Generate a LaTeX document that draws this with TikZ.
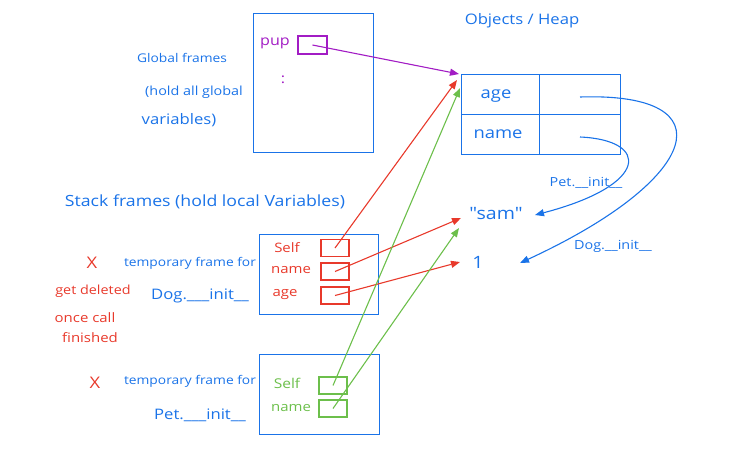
\documentclass[tikz,border=0pt]{standalone}
\usepackage{fontspec}
\setmainfont{Open Sans}[FakeStretch=1.15, Ligatures=TeXOff]
\usetikzlibrary{arrows.meta}
\definecolor{hblue}{HTML}{1A73E8}
\definecolor{hred}{HTML}{E8392B}
\definecolor{hgreen}{HTML}{6CBF4B}
\definecolor{hpurple}{HTML}{A21CC4}
\newcommand{\fsz}[1]{\fontsize{#1}{#1}\selectfont}
\tikzset{
  frame/.style={draw=hblue, line width=1.2pt},
  cell/.style={draw=hblue, line width=1.2pt, minimum width=#1, minimum height=40pt, inner sep=0pt, anchor=north west},
  slot/.style={draw=#1, line width=1.1pt, minimum width=28pt, minimum height=17pt, inner sep=0pt},
  txt/.style={text=#1, inner sep=0pt, font=\fsz{13}},
  ptr/.style={draw=#1, line width=1.1pt, -{Triangle[length=9pt,width=7pt]}},
}
\begin{document}
\begin{tikzpicture}[x=1pt,y=-1pt]
\useasboundingbox (0,0) rectangle (743,451);
% global frame
\node[frame, minimum width=120pt, minimum height=139pt, anchor=north west, inner sep=0pt] (global) at (253,13) {};
\node[txt=hpurple, font=\fsz{14}] (pup) at (275,43) {pup};
\node[slot=hpurple, minimum width=29pt, minimum height=18pt] (pupbox) at (312.5,45) {};
\node[txt=hpurple, font=\fsz{14}] (dots) at (283,80) {:};
\node[txt=hblue, font=\fsz{12}] (gf1) at (182,58) {Global frames};
\node[txt=hblue, font=\fsz{12.5}] (gf2) at (194,92) {(hold all global};
\node[txt=hblue, font=\fsz{14.5}] (gf3) at (179,120) {variables)};
% heap
\node[txt=hblue, font=\fsz{14.5}] (heaplbl) at (522,21) {Objects / Heap};
\node[cell=78pt] (hak) at (461,74) {};
\node[cell=81pt] (hav) at (539,74) {};
\node[cell=78pt] (hnk) at (461,114) {};
\node[cell=81pt] (hnv) at (539,114) {};
\node[txt=hblue, font=\fsz{16}] (agek) at (496,96) {age};
\node[txt=hblue, font=\fsz{16}] (namek) at (498,134) {name};
\node[txt=hblue, font=\fsz{17}] (sam) at (496,214) {"sam"};
\node[txt=hblue, font=\fsz{17}] (one) at (478,262) {1};
\node[txt=hblue, font=\fsz{12.5}] (petlbl) at (586,183) {Pet.\_\_init\_\_};
\node[txt=hblue, font=\fsz{12.5}] (doglbl) at (613,246) {Dog.\_\_init\_\_};
\coordinate (avs) at (580,97);
\coordinate (nvs) at (580,137);
\coordinate (onetip) at (520,263);
\coordinate (samtip) at (535,215);
\draw[ptr=hblue] (avs) .. controls (730,92) and (700,180) .. (onetip);
\draw[ptr=hblue] (nvs) .. controls (650,140) and (650,185) .. (samtip);
% stack frames
\node[txt=hblue, font=\fsz{15.4}] (stacklbl) at (205,202) {Stack frames (hold local Variables)};
\node[frame, minimum width=119pt, minimum height=80pt, anchor=north west, inner sep=0pt] (dogframe) at (259,234) {};
\node[txt=hred] (dself) at (287,248) {Self};
\node[txt=hred] (dname) at (291,270) {name};
\node[txt=hred] (dage) at (285,295) {age};
\node[slot=hred] (dselfb) at (335,248) {};
\node[slot=hred] (dnameb) at (335,271.5) {};
\node[slot=hred] (dageb) at (335,295.5) {};
\node[txt=hred, font=\fsz{16}] (x1) at (92,263) {X};
\node[txt=hred, font=\fsz{12.5}] (del1) at (93,291) {get deleted};
\node[txt=hred, font=\fsz{13}] (del2) at (85,318) {once call};
\node[txt=hred, font=\fsz{13}] (del3) at (90,338) {finished};
\node[txt=hblue, font=\fsz{12}] (tf1) at (190,263) {temporary frame for};
\node[txt=hblue, font=\fsz{14.5}] (dinit) at (200,296) {Dog.\_\_\_init\_\_};
\node[frame, minimum width=120pt, minimum height=80pt, anchor=north west, inner sep=0pt] (petframe) at (259,354) {};
\node[txt=hgreen, font=\fsz{13.5}] (pself) at (287,383) {Self};
\node[txt=hgreen, font=\fsz{13}] (pname) at (291,408) {name};
\node[slot=hgreen] (pselfb) at (333,385.5) {};
\node[slot=hgreen] (pnameb) at (333,408.5) {};
\node[txt=hred, font=\fsz{16}] (x2) at (95,383) {X};
\node[txt=hblue, font=\fsz{12}] (tf2) at (190,381) {temporary frame for};
\node[txt=hblue, font=\fsz{14.5}] (pinit) at (200,415) {Pet.\_\_\_init\_\_};
% pointers
\coordinate (purtip) at (459,74);
\coordinate (redtip) at (457,80);
\coordinate (grntip) at (460,88);
\coordinate (redsam) at (461,218);
\coordinate (grnsam) at (459,228);
\coordinate (redone) at (460,262);
\draw[ptr=hpurple] (pupbox.center) -- (purtip);
\draw[ptr=hred] (dselfb.center) -- (redtip);
\draw[ptr=hred] (dnameb.center) -- (redsam);
\draw[ptr=hred] (dageb.center) -- (redone);
\draw[ptr=hgreen] (pselfb.center) -- (grntip);
\draw[ptr=hgreen] (pnameb.center) -- (grnsam);
\end{tikzpicture}
\end{document}
